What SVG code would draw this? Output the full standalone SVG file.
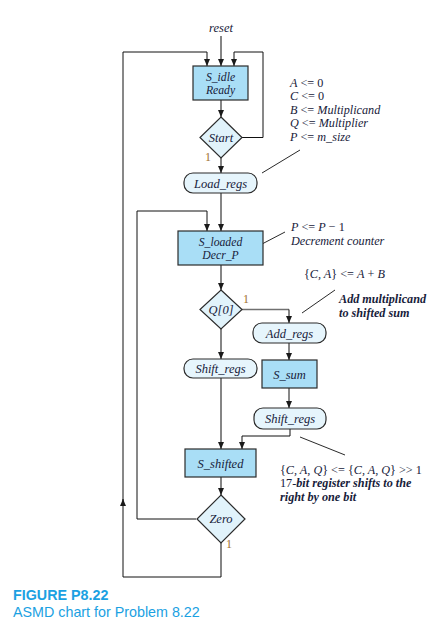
<svg xmlns="http://www.w3.org/2000/svg" width="436" height="629" viewBox="0 0 436 629">
<style>
.state{fill:#a9def6;stroke:#2b2b2b;stroke-width:1.2}
.dec{fill:#e1f3fb;stroke:#2b2b2b;stroke-width:1.2}
.cond{fill:#e6f5fc;stroke:#2b2b2b;stroke-width:1.2}
.flow{stroke:#707070;stroke-width:1.7;fill:none}
.loop{stroke:#111;stroke-width:1;fill:none}
.note{stroke:#111;stroke-width:0.9;fill:none}
.t{font-family:"Liberation Serif",serif;font-style:italic;font-size:12.5px;fill:#17213a}
.t2{font-size:11.7px}
.c{text-anchor:middle}
.a{font-family:"Liberation Serif",serif;font-size:12.2px;fill:#17213a}
.i{font-style:italic}
.b{font-weight:bold;font-style:italic}
.one{font-family:"Liberation Serif",serif;font-size:12px;fill:#a0702e}
.cap{font-family:"Liberation Sans",Arial,sans-serif;font-size:14.3px;fill:#1ba1e2}
</style>
<defs>
<marker id="ah" markerUnits="userSpaceOnUse" markerWidth="7" markerHeight="6" refX="7" refY="3" orient="auto">
<path d="M0,0 L7,3 L0,6 z" fill="#1a1a1a"/>
</marker>
</defs>
<rect width="436" height="629" fill="#fff"/>

<g id="connectors">
<line class="flow" x1="221" y1="36" x2="221" y2="66" marker-end="url(#ah)"/>
<line class="flow" x1="221" y1="543" x2="221" y2="577"/>
<path class="loop" d="M221,577 H123 V52 H207 V66" marker-end="url(#ah)"/>
<path class="loop" d="M123,506 V499" marker-end="url(#ah)"/>
<path class="loop" d="M242,137.5 H263 V52 H234 V66" marker-end="url(#ah)"/>
<line class="flow" x1="221" y1="100" x2="221" y2="117" marker-end="url(#ah)"/>
<line class="flow" x1="221" y1="158" x2="221" y2="173" marker-end="url(#ah)"/>
<line class="flow" x1="221" y1="193" x2="221" y2="231" marker-end="url(#ah)"/>
<path class="loop" d="M196,519 H137 V211 H207 V231" marker-end="url(#ah)"/>
<line class="flow" x1="221" y1="265" x2="221" y2="290" marker-end="url(#ah)"/>
<path class="flow" d="M242,309.5 H289"/>
<path class="loop" d="M289,309.5 V323" marker-end="url(#ah)"/>
<line class="loop" x1="289" y1="343" x2="289" y2="360" marker-end="url(#ah)"/>
<line class="flow" x1="221" y1="329" x2="221" y2="359" marker-end="url(#ah)"/>
<line class="loop" x1="289" y1="388" x2="289" y2="408" marker-end="url(#ah)"/>
<line class="flow" x1="221" y1="378" x2="221" y2="449" marker-end="url(#ah)"/>
<path class="loop" d="M290,429 V436 H242 V449" marker-end="url(#ah)"/>
<line class="flow" x1="221" y1="477" x2="221" y2="495" marker-end="url(#ah)"/>
<line class="note" x1="262" y1="173" x2="300" y2="150"/>
<line class="note" x1="262" y1="244" x2="285" y2="232"/>
<line class="note" x1="302" y1="313" x2="335" y2="290"/>
<line class="note" x1="300" y1="437" x2="345" y2="455"/>
</g>

<text class="t c" x="221" y="32" font-size="11">reset</text>

<g id="S_idle">
<rect class="state" x="193" y="66" width="55" height="34"/>
<text class="t t2 c" x="220.5" y="80.5">S_idle</text>
<text class="t t2 c" x="220.5" y="93.5">Ready</text>
</g>

<g id="Start">
<polygon class="dec" points="221,117 242,137.5 221,158 200,137.5"/>
<text class="t c" x="221" y="141.5" font-size="11.5">Start</text>
<text class="one" x="205" y="161" fill="#333">1</text>
</g>

<g id="Load_regs">
<rect class="cond" x="184" y="173" width="73" height="20" rx="9"/>
<text class="t c" x="220.5" y="187.5">Load_regs</text>
</g>

<g id="S_loaded">
<rect class="state" x="178" y="231" width="85" height="34"/>
<text class="t t2 c" x="220.5" y="246">S_loaded</text>
<text class="t t2 c" x="220.5" y="259">Decr_P</text>
</g>

<g id="Q0">
<polygon class="dec" points="221,290 242,309.5 221,329 200,309.5"/>
<text class="t c" x="221" y="314">Q[0]</text>
<text class="one" x="243" y="303">1</text>
</g>

<g id="Add_regs">
<rect class="cond" x="253" y="323" width="73" height="20" rx="9"/>
<text class="t c" x="289.5" y="337.5">Add_regs</text>
</g>

<g id="Shift_regs_1">
<rect class="cond" x="184" y="359" width="73" height="19" rx="9"/>
<text class="t c" x="220.5" y="373">Shift_regs</text>
</g>

<g id="S_sum">
<rect class="state" x="262" y="360" width="55" height="28"/>
<text class="t c" x="289.5" y="378.5">S_sum</text>
</g>

<g id="Shift_regs_2">
<rect class="cond" x="254" y="408" width="72" height="21" rx="9"/>
<text class="t c" x="290" y="423">Shift_regs</text>
</g>

<g id="S_shifted">
<rect class="state" x="185" y="449" width="71" height="28"/>
<text class="t c" x="220.5" y="467.5">S_shifted</text>
</g>

<g id="Zero">
<polygon class="dec" points="221,495 245,519 221,543 197,519"/>
<text class="t c" x="221" y="523">Zero</text>
<text class="one" x="226" y="548">1</text>
</g>

<g id="notes">
<text class="a" x="290" y="86.5"><tspan class="i">A</tspan> &lt;= 0</text>
<text class="a" x="290" y="100"><tspan class="i">C</tspan> &lt;= 0</text>
<text class="a" x="290" y="113.5"><tspan class="i">B</tspan> &lt;= <tspan class="i">Multiplicand</tspan></text>
<text class="a" x="290" y="127"><tspan class="i">Q</tspan> &lt;= <tspan class="i">Multiplier</tspan></text>
<text class="a" x="290" y="140.5"><tspan class="i">P</tspan> &lt;= <tspan class="i">m_size</tspan></text>
<text class="a" x="291" y="231"><tspan class="i">P</tspan> &lt;= <tspan class="i">P</tspan> − 1</text>
<text class="a" x="291" y="244.5"><tspan class="i">Decrement counter</tspan></text>
<text class="a" x="304" y="278">{<tspan class="i">C, A</tspan>} &lt;= <tspan class="i">A</tspan> + <tspan class="i">B</tspan></text>
<text class="a" x="339" y="303"><tspan class="b">Add multiplicand</tspan></text>
<text class="a" x="339" y="316.5"><tspan class="b">to shifted sum</tspan></text>
<text class="a" x="280" y="473.5">{<tspan class="i">C, A, Q</tspan>} &lt;= {<tspan class="i">C, A, Q</tspan>} &gt;&gt; 1</text>
<text class="a" x="280" y="487">17-<tspan class="b">bit register shifts to the</tspan></text>
<text class="a" x="280" y="500.5"><tspan class="b">right by one bit</tspan></text>
</g>

<text class="cap" x="13" y="600" font-weight="bold">FIGURE P8.22</text>
<text class="cap" x="13" y="616.5">ASMD chart for Problem 8.22</text>
</svg>
